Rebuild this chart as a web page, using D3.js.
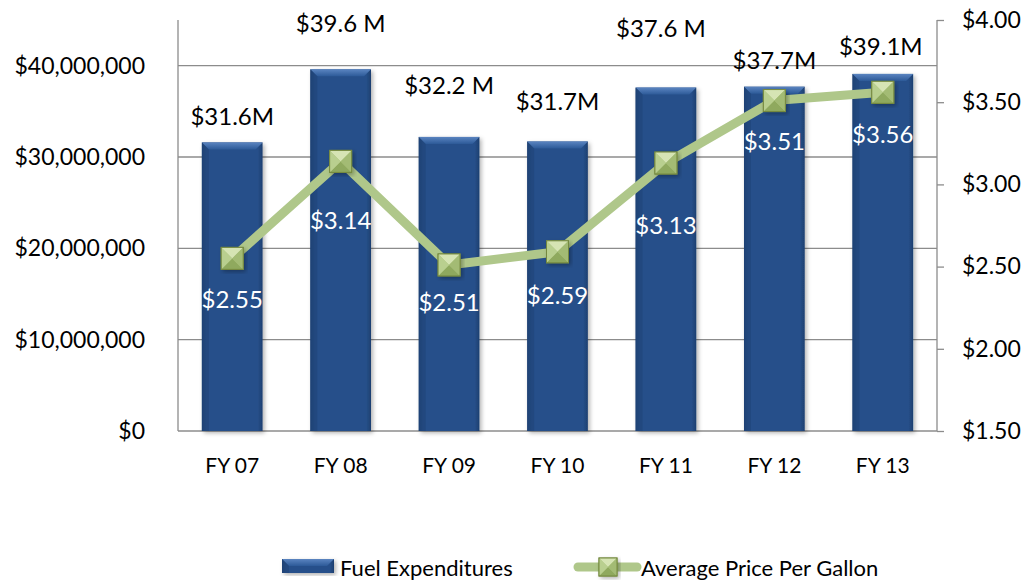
<!DOCTYPE html>
<html><head><meta charset="utf-8">
<script src="https://cdn.jsdelivr.net/npm/d3@7"></script>
<style>body{margin:0;background:#fff}svg{display:block}text{font-family:Lato,"Open Sans",sans-serif}</style>
</head><body><svg id="c" width="1027" height="580"></svg>
<script>
const categories = ["FY 07","FY 08","FY 09","FY 10","FY 11","FY 12","FY 13"];
const expenditures = [31.6e6, 39.6e6, 32.2e6, 31.7e6, 37.6e6, 37.7e6, 39.1e6];
const expenditureLabels = ["$31.6M","$39.6 M","$32.2 M","$31.7M","$37.6 M","$37.7M","$39.1M"];
const prices = [2.55, 3.14, 2.51, 2.59, 3.13, 3.51, 3.56];
const priceLabels = ["$2.55","$3.14","$2.51","$2.59","$3.13","$3.51","$3.56"];
const leftTicks = [0, 10e6, 20e6, 30e6, 40e6];
const rightTicks = [1.5, 2.0, 2.5, 3.0, 3.5, 4.0];
const seriesNames = ["Fuel Expenditures", "Average Price Per Gallon"];

const svg = d3.select("#c");
const L = 178, R = 937, T = 20, B = 431;
const x = d3.scaleBand().domain(categories).range([L, R]).paddingInner(0.44).paddingOuter(0.22);
const yL = d3.scaleLinear().domain([0, 45e6]).range([B, T]);
const yR = d3.scaleLinear().domain([1.5, 4.0]).range([B, T]);

const defs = svg.append("defs");
const bg = defs.append("linearGradient").attr("id","barG").attr("x1","0").attr("x2","1").attr("y1","0").attr("y2","0");
bg.append("stop").attr("offset","0").attr("stop-color","#1d3f70");
bg.append("stop").attr("offset","0.08").attr("stop-color","#27508a");
bg.append("stop").attr("offset","0.92").attr("stop-color","#27508a");
bg.append("stop").attr("offset","1").attr("stop-color","#1d3f70");
const tg = defs.append("linearGradient").attr("id","topG").attr("x1","0").attr("x2","0").attr("y1","0").attr("y2","1");
tg.append("stop").attr("offset","0").attr("stop-color","#5a84c0");
tg.append("stop").attr("offset","1").attr("stop-color","#2d5a98");
const f = defs.append("filter").attr("id","sh").attr("x","-20%").attr("y","-20%").attr("width","140%").attr("height","140%");
f.append("feDropShadow").attr("dx",2).attr("dy",2).attr("stdDeviation",2).attr("flood-color","#000").attr("flood-opacity",0.3);

// gridlines
svg.append("g").selectAll("line").data(leftTicks.filter(d=>d>0)).join("line")
  .attr("x1", L).attr("x2", R).attr("y1", d=>yL(d)).attr("y2", d=>yL(d))
  .attr("stroke","#8c8c8c").attr("stroke-width",1.3);

// axes lines
const axisColor = "#8c8c8c";
svg.append("line").attr("x1",L).attr("x2",L).attr("y1",T).attr("y2",B).attr("stroke",axisColor).attr("stroke-width",1.3);
svg.append("line").attr("x1",R).attr("x2",R).attr("y1",T).attr("y2",B).attr("stroke",axisColor).attr("stroke-width",1.3);
svg.append("line").attr("x1",L).attr("x2",R).attr("y1",B).attr("y2",B).attr("stroke",axisColor).attr("stroke-width",1.3);

// left axis
const fmtL = d3.format("$,.0f");
const la = svg.append("g").attr("transform",`translate(${L},0)`)
  .call(d3.axisLeft(yL).tickValues(leftTicks).tickFormat(d=>fmtL(d)).tickSize(0).tickPadding(33));
la.select(".domain").remove();
la.selectAll("text").attr("font-size",23).attr("fill","#000").style("font-family","Lato");

// right axis
const ra = svg.append("g").attr("transform",`translate(${R},0)`)
  .call(d3.axisRight(yR).tickValues(rightTicks).tickFormat(d3.format("$.2f")).tickSize(7).tickPadding(18));
ra.select(".domain").remove();
ra.selectAll("line").attr("stroke",axisColor).attr("stroke-width",1.3);
ra.selectAll("text").attr("font-size",23).attr("fill","#000").style("font-family","Lato");

// x axis
const xa = svg.append("g").attr("transform",`translate(0,${B})`)
  .call(d3.axisBottom(x).tickSize(0).tickPadding(0));
xa.select(".domain").remove();
xa.selectAll("text").attr("y",42).attr("dy","0").attr("font-size",21).attr("fill","#000").style("font-family","Lato");

// bars
function drawBar(g, bx, by, bw, bh){
  g.append("rect").attr("x",bx).attr("y",by).attr("width",bw).attr("height",bh).attr("fill","url(#barG)").attr("filter","url(#sh)");
  const b = Math.min(7, bh/2);
  g.append("path").attr("d",`M${bx},${by}L${bx+bw},${by}L${bx+bw-b},${by+b}L${bx+b},${by+b}Z`).attr("fill","url(#topG)");
  g.append("path").attr("d",`M${bx},${by}L${bx+b},${by+b}L${bx+b},${by+bh}L${bx},${by+bh}Z`).attr("fill","#1f4478").attr("opacity",0.6);
}
const barsG = svg.append("g");
expenditures.forEach((v,i)=>{
  drawBar(barsG, x(categories[i]), yL(v), x.bandwidth(), B - yL(v));
});

// expenditure labels
const expDy = [-27, -47, -52, -41, -60, -27, -28];
const expDx = [0, 0, 0, 0, -5, 0, -2];
svg.append("g").selectAll("text").data(expenditureLabels).join("text")
  .attr("x",(d,i)=>x(categories[i]) + x.bandwidth()/2 + expDx[i])
  .attr("y",(d,i)=>yL(expenditures[i]) + expDy[i])
  .attr("text-anchor","middle").attr("dominant-baseline","central")
  .attr("font-size",24).attr("fill","#000").text(d=>d);

// price line
const cx = i => x(categories[i]) + x.bandwidth()/2;
const line = d3.line().x((d,i)=>cx(i)).y(d=>yR(d));
svg.append("path").datum(prices).attr("d",line).attr("fill","none")
  .attr("stroke","#afc78a").attr("stroke-width",9).attr("stroke-linejoin","round");

// markers
function drawMarker(g, mx, my, s){
  const h = s/2;
  const gg = g.append("g").attr("transform",`translate(${mx},${my})`);
  gg.append("rect").attr("x",-h).attr("y",-h).attr("width",s).attr("height",s).attr("fill","#a8c07a").attr("stroke","#75893f").attr("stroke-width",1).attr("filter","url(#sh)");
  gg.append("path").attr("d",`M${-h},${-h}L${h},${-h}L0,0Z`).attr("fill","#d6e4b4");
  gg.append("path").attr("d",`M${-h},${h}L${h},${h}L0,0Z`).attr("fill","#8fa95e");
  gg.append("path").attr("d",`M${-h},${-h}L${-h},${h}L0,0Z`).attr("fill","#b9cf8f");
  gg.append("path").attr("d",`M${h},${-h}L${h},${h}L0,0Z`).attr("fill","#a3bb74");
  gg.append("rect").attr("x",-h).attr("y",-h).attr("width",s).attr("height",s).attr("fill","none").attr("stroke","#75893f").attr("stroke-width",1);
}
const mkG = svg.append("g");
prices.forEach((p,i)=>drawMarker(mkG, cx(i), yR(p), 22));

// price labels
const priceDy = [40, 58, 37, 43, 61, 40, 41];
svg.append("g").selectAll("text").data(priceLabels).join("text")
  .attr("x",(d,i)=>cx(i))
  .attr("y",(d,i)=>yR(prices[i]) + priceDy[i])
  .attr("text-anchor","middle").attr("dominant-baseline","central")
  .attr("font-size",24).attr("fill","#fff").text(d=>d);

// legend
const lg = svg.append("g");
drawBar(lg, 282, 559, 52, 14);
lg.append("text").attr("x",340).attr("y",567).attr("dominant-baseline","central").attr("font-size",22).text(seriesNames[0]);
lg.append("line").attr("x1",578).attr("x2",637).attr("y1",567).attr("y2",567).attr("stroke","#afc78a").attr("stroke-width",9).attr("stroke-linecap","round");
drawMarker(lg, 608, 567, 18);
lg.append("text").attr("x",641).attr("y",567).attr("dominant-baseline","central").attr("font-size",22).text(seriesNames[1]);
</script></body></html>
